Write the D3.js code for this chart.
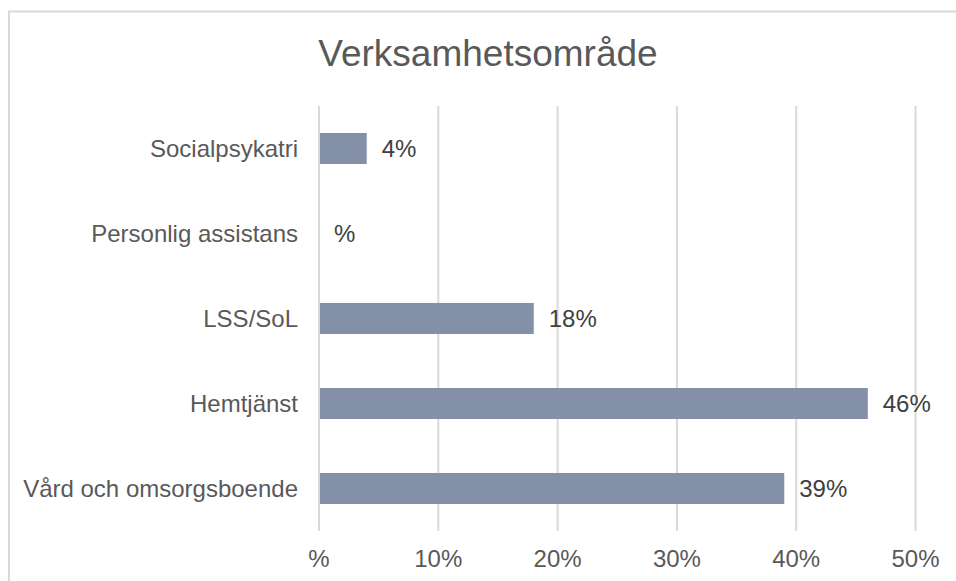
<!DOCTYPE html>
<meta charset="utf-8">
<style>
body { margin: 0; background: #fff; }
text { font-family: "Liberation Sans", Arial, sans-serif; fill: #595959; }
.grid line { stroke: #d9d9d9; stroke-width: 2px; }
.frame { fill: none; stroke: #d9d9d9; stroke-width: 2px; }
</style>
<svg width="956" height="581"></svg>
<script src="https://cdn.jsdelivr.net/npm/d3@7"></script>
<script>

var categories = ["Socialpsykatri", "Personlig assistans", "LSS/SoL", "Hemtjänst", "Vård och omsorgsboende"];
var values = [4, 0, 18, 46, 39];
var ticks = [0, 10, 20, 30, 40, 50];
var title = "Verksamhetsområde";

var svg = d3.select("svg");

var fmt = function(v) { return v === 0 ? "%" : v + "%"; };

var x = d3.scaleLinear()
    .domain([0, 50])
    .range([319, 915.5]);

var y = d3.scaleBand()
    .domain(categories)
    .range([106, 531])
    .paddingInner(0.635)
    .paddingOuter(0.3175);

// chart frame (right and bottom fall outside the picture)
svg.append("rect")
    .attr("class", "frame")
    .attr("x", 9)
    .attr("y", 11.5)
    .attr("width", 1000)
    .attr("height", 1000);

svg.append("text")
    .attr("x", 488)
    .attr("y", 66)
    .attr("text-anchor", "middle")
    .attr("font-size", "37px")
    .text(title);

// vertical gridlines
svg.append("g")
    .attr("class", "grid")
    .selectAll("line")
    .data(ticks)
    .enter().append("line")
    .attr("x1", function(d) { return x(d); })
    .attr("x2", function(d) { return x(d); })
    .attr("y1", 106)
    .attr("y2", 531);

// x tick labels
svg.append("g")
    .selectAll("text")
    .data(ticks)
    .enter().append("text")
    .attr("x", function(d) { return x(d); })
    .attr("y", 567)
    .attr("text-anchor", "middle")
    .attr("font-size", "24px")
    .text(fmt);

// bars
svg.append("g")
    .selectAll("rect")
    .data(values)
    .enter().append("rect")
    .attr("x", x(0) + 1)
    .attr("y", function(d, i) { return y(categories[i]); })
    .attr("width", function(d) { return Math.max(0, x(d) - x(0) - 1); })
    .attr("height", y.bandwidth())
    .attr("fill", "#848fa8");

// value labels
svg.append("g")
    .selectAll("text")
    .data(values)
    .enter().append("text")
    .attr("x", function(d) { return x(d) + 15; })
    .attr("y", function(d, i) { return y(categories[i]) + y.bandwidth() / 2; })
    .attr("dy", "0.35em")
    .attr("font-size", "24px")
    .attr("fill", "#404040")
    .style("fill", "#404040")
    .text(fmt);

// category labels
svg.append("g")
    .selectAll("text")
    .data(categories)
    .enter().append("text")
    .attr("x", 298)
    .attr("y", function(d) { return y(d) + y.bandwidth() / 2; })
    .attr("dy", "0.35em")
    .attr("text-anchor", "end")
    .attr("font-size", "24px")
    .text(function(d) { return d; });

</script>
